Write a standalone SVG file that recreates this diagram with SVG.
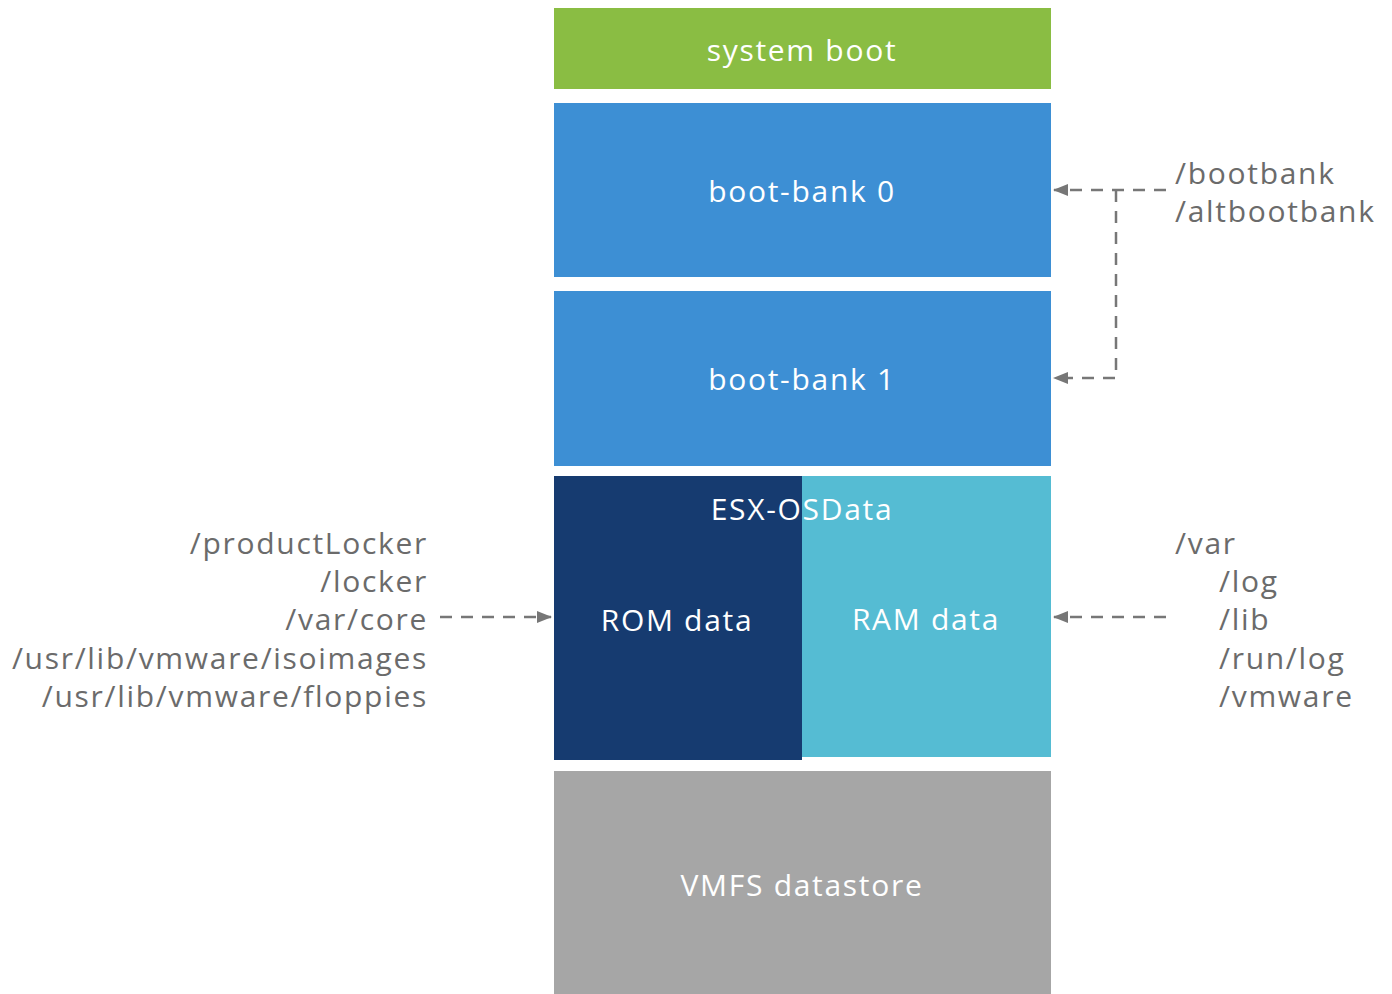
<svg xmlns="http://www.w3.org/2000/svg" width="1392" height="994" viewBox="0 0 1392 994">
<style>
.lbl{font-family:"Open Sans","Liberation Sans",sans-serif;font-size:30px;letter-spacing:1.7px;fill:#ffffff;text-anchor:middle}
.path{font-family:"Open Sans","Liberation Sans",sans-serif;font-size:30px;letter-spacing:1.7px;fill:#6b6b6b}
.conn{fill:none;stroke:#777777;stroke-width:2.5;stroke-dasharray:12 9}
</style>
<defs>
<marker id="ah" markerWidth="15" markerHeight="12" refX="14" refY="6" orient="auto" markerUnits="userSpaceOnUse" viewBox="0 0 15 12">
<path d="M0,0 L15,6 L0,12 Z" fill="#777777"/>
</marker>
</defs>
<rect width="1392" height="994" fill="#ffffff"/>
<g id="system-boot"><rect x="554" y="8" width="497" height="81" fill="#8abd43"/><text class="lbl" x="802" y="61">system boot</text></g>
<g id="boot-bank-0"><rect x="554" y="103" width="497" height="174" fill="#3d8fd4"/><text class="lbl" x="802" y="202">boot-bank 0</text></g>
<g id="boot-bank-1"><rect x="554" y="291" width="497" height="175" fill="#3d8fd4"/><text class="lbl" x="802" y="390">boot-bank 1</text></g>
<g id="esx-osdata">
<rect x="554" y="476" width="248" height="284" fill="#163b70"/>
<rect x="802" y="476" width="249" height="281" fill="#55bcd3"/>
<text class="lbl" x="802" y="520">ESX-OSData</text>
<text class="lbl" x="677" y="631">ROM data</text>
<text class="lbl" x="926" y="630">RAM data</text>
</g>
<g id="vmfs"><rect x="554" y="771" width="497" height="223" fill="#a6a6a6"/><text class="lbl" x="802" y="896">VMFS datastore</text></g>
<g id="labels-left">
<text class="path" x="428" y="554" text-anchor="end">/productLocker</text>
<text class="path" x="428" y="592" text-anchor="end">/locker</text>
<text class="path" x="428" y="630" text-anchor="end">/var/core</text>
<text class="path" x="428" y="669" text-anchor="end">/usr/lib/vmware/isoimages</text>
<text class="path" x="428" y="707" text-anchor="end">/usr/lib/vmware/floppies</text>
</g>
<g id="labels-right-top">
<text class="path" x="1175" y="184">/bootbank</text>
<text class="path" x="1175" y="222">/altbootbank</text>
</g>
<g id="labels-right">
<text class="path" x="1175" y="554">/var</text>
<text class="path" x="1219" y="592">/log</text>
<text class="path" x="1219" y="630">/lib</text>
<text class="path" x="1219" y="669">/run/log</text>
<text class="path" x="1219" y="707">/vmware</text>
</g>
<g id="connectors">
<path class="conn" d="M1166,190 L1054,190" marker-end="url(#ah)"/>
<path class="conn" d="M1116,190 L1116,378 L1054,378" marker-end="url(#ah)"/>
<path class="conn" d="M440,617 L551,617" marker-end="url(#ah)"/>
<path class="conn" d="M1166,617 L1054,617" marker-end="url(#ah)"/>
</g>
</svg>
